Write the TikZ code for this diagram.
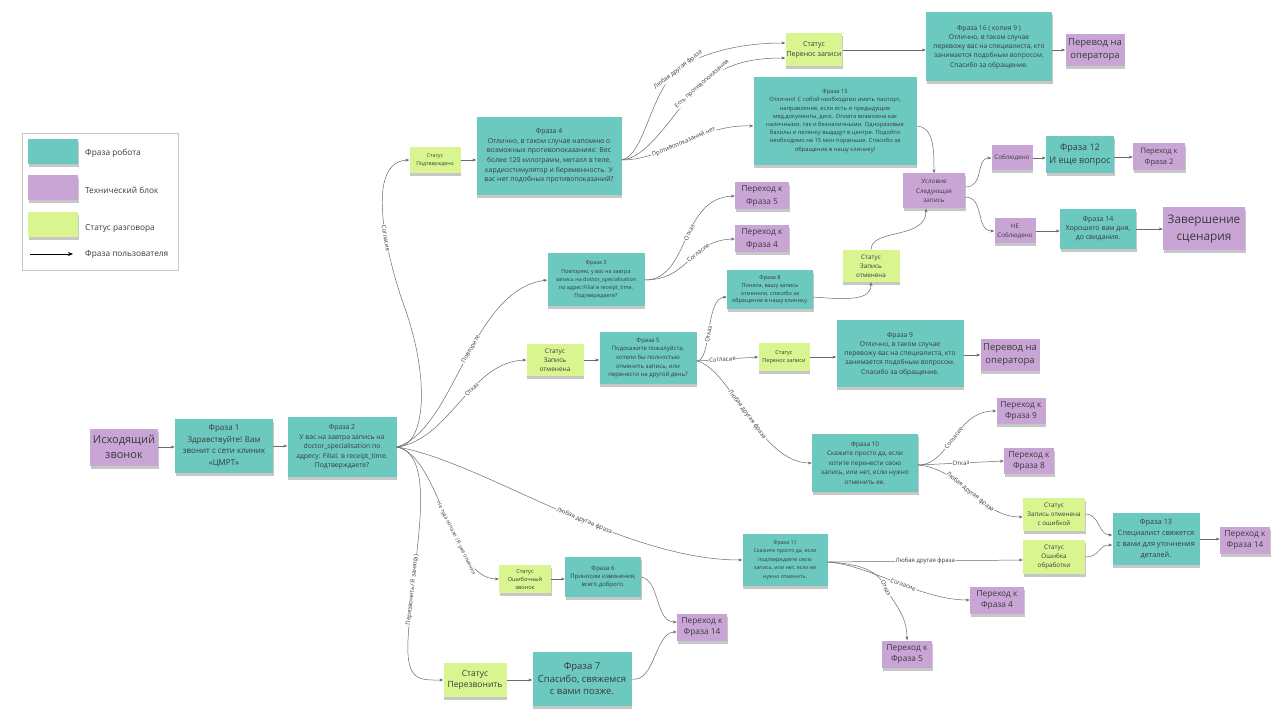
\documentclass[tikz,border=0pt]{standalone}
\usepackage{fontspec}
\setmainfont{Open Sans}
\usetikzlibrary{arrows.meta,shadows}
\definecolor{tealc}{HTML}{6BC9C0}
\definecolor{purc}{HTML}{C9A5D6}
\definecolor{grnc}{HTML}{D8F58F}
\definecolor{txt}{HTML}{3A3A3A}
\definecolor{edgec}{HTML}{6A6A6A}
\newcommand{\fsz}[2]{\fontsize{#1}{#2}\selectfont}
\tikzset{
  sticky/.style={inner sep=1pt, align=center, text=txt,
    drop shadow={shadow xshift=0.5pt,shadow yshift=-3pt,opacity=0.22,fill=black}},
  robot/.style={sticky, fill=tealc},
  tech/.style={sticky, fill=purc},
  stat/.style={sticky, fill=grnc},
  conn/.style={draw=edgec, line width=0.5pt, -{Stealth[length=4pt,width=3pt]}},
  lbl/.style={font=\fsz{6}{7}, text=txt, fill=white, inner sep=0.6pt, sloped},
  lgtext/.style={anchor=west, font=\fsz{8.3}{10}, text=txt, inner sep=0pt},
}
\begin{document}
\begin{tikzpicture}[x=1pt,y=-1pt]
\useasboundingbox (0,0) rectangle (1286,719);
\fill[white] (0,0) rectangle (1286,719);

% ---------- legend ----------
\node[draw=black!22, line width=0.6pt, fill=white, minimum width=156, minimum height=137, inner sep=0pt] (legend) at (100,201.5) {};
\node[robot, minimum width=50, minimum height=25] (lg1) at (53,152) {};
\node[tech, minimum width=50, minimum height=25] (lg2) at (53,188) {};
\node[stat, minimum width=50, minimum height=25] (lg3) at (53,225) {};
\node[lgtext] (lt1) at (85,153) {Фраза робота};
\node[lgtext] (lt2) at (85,190) {Технический блок};
\node[lgtext] (lt3) at (85,228) {Статус разговора};
\node[lgtext] (lt4) at (85,254) {Фраза пользователя};
\coordinate (lga) at (30,254);
\coordinate (lgb) at (73,254);
\draw[black, line width=0.7pt, -{Stealth[length=5pt,width=4pt]}] (lga) -- (lgb);

% ---------- nodes ----------
\node[tech, minimum width=68, minimum height=37, font=\fsz{11}{15}] (ish) at (124,447) {Исходящий\\звонок};
\node[robot, minimum width=98, minimum height=53, font=\fsz{8}{11.5}] (f1) at (224,446) {Фраза 1\\Здравствуйте! Вам\\звонит с сети клиник\\«ЦМРТ»};
\node[robot, minimum width=109, minimum height=59, font=\fsz{6.8}{9.5}] (f2) at (342,447) {Фраза 2\\У вас на завтра запись на\\doctor\_specialisation по\\адресу: Filial. в receipt\_time.\\Подтверждаете?};
\node[stat, minimum width=51, minimum height=26, font=\fsz{5.2}{8.5}] (sPod) at (435,160) {Статус\\Подтверждено};
\node[robot, minimum width=145, minimum height=78, font=\fsz{6.9}{9.7}] (f4) at (549,156) {Фраза 4\\Отлично, в таком случае напомню о\\возможных противопоказаниях: Вес\\более 120 килограмм, металл в теле,\\кардиостимулятор и беременность. У\\вас нет подобных противопоказаний?};
\node[stat, minimum width=55, minimum height=33, font=\fsz{7}{9.5}] (sPer1) at (814,50) {Статус\\Перенос записи};
\node[robot, minimum width=126, minimum height=69, font=\fsz{6.7}{9.3}] (f16) at (989,47) {Фраза 16 ( копия 9 )\\Отлично, в таком случае\\перевожу вас на специалиста, кто\\занимается подобным вопросом.\\Спасибо за обращение.};
\node[tech, minimum width=59, minimum height=32, font=\fsz{9.5}{12.5}] (op1) at (1095,50) {Перевод на\\оператора};
\node[robot, minimum width=163, minimum height=88, font=\fsz{5.8}{8.2}] (f15) at (835,121) {Фраза 15\\Отлично! С собой необходимо иметь паспорт,\\направление, если есть и предыдущие\\мед.документы, диск. Оплата возможна как\\наличными, так и безналичными. Одноразовые\\бахилы и пеленку выдадут в центре. Подойти\\необходимо на 15 мин пораньше. Спасибо за\\обращение в нашу клинику!};
\node[tech, minimum width=62, minimum height=35, font=\fsz{6.3}{9.5}] (usl) at (934,191) {Условие\\Следующая\\запись};
\node[tech, minimum width=41, minimum height=25, font=\fsz{6.3}{9}] (sob) at (1012,158) {Соблюдено};
\node[robot, minimum width=68, minimum height=37, font=\fsz{9}{13.5}] (f12) at (1080,155) {Фраза 12\\И еще вопрос};
\node[tech, minimum width=52, minimum height=27, font=\fsz{7.5}{10.5}] (p2) at (1159,157) {Переход к\\Фраза 2};
\node[tech, minimum width=41, minimum height=25, font=\fsz{6.3}{9}] (nsob) at (1015,231) {НЕ\\Соблюдено};
\node[robot, minimum width=76, minimum height=40, font=\fsz{7}{9}] (f14) at (1098,229) {Фраза 14\\Хорошего вам дня,\\до свидания.};
\node[tech, minimum width=82, minimum height=43, font=\fsz{11.8}{17}] (zav) at (1204,229) {Завершение\\сценария};
\node[tech, minimum width=54, minimum height=27, font=\fsz{8.3}{12.5}] (p5a) at (762,196) {Переход к\\Фраза 5};
\node[tech, minimum width=54, minimum height=27, font=\fsz{8.3}{12.5}] (p4a) at (762,239) {Переход к\\Фраза 4};
\node[robot, minimum width=97, minimum height=53, font=\fsz{5.4}{8.2}] (f3) at (596,280) {Фраза 3\\Повторяю, у вас на завтра\\запись на doctor\_specialisation\\по адрес:Filial в receipt\_time.\\Подтверждаете?};
\node[stat, minimum width=57, minimum height=32, font=\fsz{6.3}{9}] (sOtmR) at (871,266) {Статус\\Запись\\отменена};
\node[robot, minimum width=86, minimum height=39, font=\fsz{5.5}{7.6}] (f8) at (770,290) {Фраза 8\\Поняла, вашу запись\\отменили, спасибо за\\обращение в нашу клинику.};
\node[stat, minimum width=57, minimum height=32, font=\fsz{6.5}{9.3}] (sOtmL) at (555,360) {Статус\\Запись\\отменена};
\node[robot, minimum width=97, minimum height=52, font=\fsz{6}{8.7}] (f5) at (648,358) {Фраза 5\\Подскажите пожалуйста,\\хотели бы полностью\\отменить запись, или\\перенести на другой день?};
\node[stat, minimum width=51, minimum height=28, font=\fsz{5.5}{8}] (sPer2) at (784,357) {Статус\\Перенос записи};
\node[robot, minimum width=127, minimum height=67, font=\fsz{6.7}{9.3}] (f9) at (900,354) {Фраза 9\\Отлично, в таком случае\\перевожу вас на специалиста, кто\\занимается подобным вопросом.\\Спасибо за обращение.};
\node[tech, minimum width=59, minimum height=32, font=\fsz{9.5}{12.5}] (op2) at (1010,355) {Перевод на\\оператора};
\node[robot, minimum width=106, minimum height=58, font=\fsz{6.4}{9.5}] (f10) at (865,463) {Фраза 10\\Скажите просто да, если\\хотите перенести свою\\запись, или нет, если нужно\\отменить ее.};
\node[tech, minimum width=49, minimum height=26, font=\fsz{8.3}{11}] (p9) at (1021,411) {Переход к\\Фраза 9};
\node[tech, minimum width=50, minimum height=26, font=\fsz{8.3}{11}] (p8) at (1029,461) {Переход к\\Фраза 8};
\node[stat, minimum width=62, minimum height=33, font=\fsz{6.3}{9}] (sErr) at (1054,514) {Статус\\Запись отменена\\с ошибкой};
\node[stat, minimum width=62, minimum height=34, font=\fsz{6.3}{9}] (sObr) at (1054,557) {Статус\\Ошибка\\обработки};
\node[robot, minimum width=87, minimum height=52, font=\fsz{7.3}{11}] (f13) at (1156,539) {Фраза 13\\Специалист свяжется\\с вами для уточнения\\деталей.};
\node[tech, minimum width=50, minimum height=27, font=\fsz{8.3}{11}] (p14a) at (1245,540) {Переход к\\Фраза 14};
\node[robot, minimum width=85, minimum height=52, font=\fsz{5.3}{8.5}] (f11) at (785,560) {Фраза 11\\Скажите просто да, если\\подтверждаете свою\\запись, или нет, если ее\\нужно отменить.};
\node[tech, minimum width=54, minimum height=27, font=\fsz{8.3}{11}] (p4b) at (997,600) {Переход к\\Фраза 4};
\node[tech, minimum width=50, minimum height=27, font=\fsz{8.3}{11}] (p5b) at (907,654) {Переход к\\Фраза 5};
\node[stat, minimum width=52, minimum height=28, font=\fsz{5.6}{8}] (sOsh) at (525,579) {Статус\\Ошибочный\\звонок};
\node[robot, minimum width=76, minimum height=40, font=\fsz{6}{8.3}] (f6) at (603,577) {Фраза 6\\Приносим извинения,\\всего доброго.};
\node[tech, minimum width=50, minimum height=27, font=\fsz{8.3}{11}] (p14b) at (702,627) {Переход к\\Фраза 14};
\node[stat, minimum width=63, minimum height=34, font=\fsz{8.5}{11}] (sPrz) at (475,680) {Статус\\Перезвонить};
\node[robot, minimum width=99, minimum height=54, font=\fsz{9.5}{12.5}] (f7) at (582,679) {Фраза 7\\Спасибо, свяжемся\\с вами позже.};

% ---------- connectors ----------
\draw[conn] (ish.east) -- (ish.east -| f1.west);
\draw[conn] (f1.east) -- (f1.east -| f2.west);

% fan from Фраза 2
\draw[conn] (f2.east) .. controls (425,447) and (432,380) .. (402,300) .. controls (382,240) and (368,162) .. (sPod.west) node[lbl,pos=0.33]{Согласие};
\draw[conn] (f2.east) .. controls (455,430) and (470,290) .. (f3.west) node[lbl,pos=0.55]{Повторите};
\draw[conn] (f2.east) .. controls (450,440) and (470,362) .. (sOtmL.west) node[lbl,pos=0.6]{Отказ};
\draw[conn] (f2.east) .. controls (480,460) and (620,560) .. (f11.west) node[lbl,pos=0.58]{Любая другая фраза};
\draw[conn] (f2.east) .. controls (440,455) and (450,579) .. (sOsh.west) node[lbl,pos=0.62,font=\fsz{5.2}{6}]{Не туда попали / Я уже отменил};
\draw[conn] (f2.east) .. controls (440,455) and (412,560) .. (408,640) node[lbl,pos=0.8]{Перезвонить/ Я занят(а)} .. controls (406,682) and (420,680) .. (sPrz.west);

\draw[conn] (sPod.east) -- (sPod.east -| f4.west);

% fan from Фраза 4
\coordinate (f4o) at ([yshift=-4pt]f4.east);
\draw[conn] (f4o) .. controls (645,155) and (650,92) .. (678,70) node[lbl,pos=1]{Любая другая фраза} .. controls (700,53) and (740,43) .. ([yshift=7pt]sPer1.west);
\draw[conn] (f4o) .. controls (650,158) and (675,108) .. (702,84) node[lbl,pos=1]{Есть противопоказания} .. controls (725,64) and (750,58) .. ([yshift=-8pt]sPer1.west);
\draw[conn] (f4o) .. controls (665,160) and (700,124) .. ([yshift=-5pt]f15.west) node[lbl,pos=0.5]{Противопоказаний нет};

\draw[conn] (sPer1.east) -- (sPer1.east -| f16.west);
\draw[conn] (op1.west -| f16.east) -- (op1.west);

\draw[conn] ([yshift=-5pt]f15.east) .. controls (934,127) and (934,150) .. (usl.north);
\draw[conn] ([yshift=4pt]usl.east) .. controls (985,187) and (975,158) .. (sob.west);
\draw[conn] ([yshift=-6pt]usl.east) .. controls (985,197) and (975,231) .. (nsob.west);
\draw[conn] (sob.east) -- (sob.east -| f12.west);
\draw[conn] (p2.west -| f12.east) -- (p2.west);
\draw[conn] (nsob.east) -- (nsob.east -| f14.west);
\draw[conn] (f14.east) -- (f14.east -| zav.west);

% Фраза 3
\draw[conn] (f3.east) .. controls (690,280) and (680,198) .. (p5a.west) node[lbl,pos=0.55]{Отказ};
\draw[conn] (f3.east) .. controls (690,280) and (690,240) .. (p4a.west) node[lbl,pos=0.62]{Согласие};

% Фраза 5
\draw[conn] (sOtmL.east) -- (sOtmL.east -| f5.west);
\coordinate (f5o) at ([yshift=-3pt]f5.east);
\draw[conn] (f5o) .. controls (712,361) and (705,298) .. ([yshift=-7pt]f8.west) node[lbl,pos=0.45]{Отказ};
\draw[conn] (f5o) -- (sPer2.west) node[lbl,pos=0.42]{Согласие};
\draw[conn] (f5o) .. controls (730,368) and (760,463) .. (f10.west) node[lbl,pos=0.5]{Любая другая фраза};

\draw[conn] ([yshift=-7pt]f8.east) .. controls (850,300) and (871,300) .. (sOtmR.south);
\draw[conn] (sOtmR.north) .. controls (871,228) and (926,240) .. ([xshift=-8pt]usl.south);
\draw[conn] (sPer2.east) -- (sPer2.east -| f9.west);
\draw[conn] (op2.west -| f9.east) -- (op2.west);

% Фраза 10
\coordinate (f10o) at ([yshift=-2pt]f10.east);
\draw[conn] (f10o) .. controls (950,465) and (955,411) .. (p9.west) node[lbl,pos=0.5]{Согласие};
\draw[conn] (f10o) -- (p8.west) node[lbl,pos=0.5]{Отказ};
\draw[conn] (f10o) .. controls (960,468) and (980,517) .. ([yshift=-3pt]sErr.west) node[lbl,pos=0.5]{Любая другая фраза};

\draw[conn] (sErr.east) .. controls (1100,514) and (1098,535) .. ([yshift=4pt]f13.west);
\draw[conn] (sObr.east) .. controls (1100,557) and (1098,545) .. ([yshift=-6pt]f13.west);
\draw[conn] (f13.east) -- (f13.east -| p14a.west);

% Фраза 11
\coordinate (f11o) at ([yshift=-2pt]f11.east);
\draw[conn] (f11o) -- ([yshift=-3pt]sObr.west) node[lbl,pos=0.5]{Любая другая фраза};
\draw[conn] (f11o) .. controls (870,565) and (920,600) .. (p4b.west) node[lbl,pos=0.55]{Согласие};
\draw[conn] (f11o) .. controls (860,564) and (878,570) .. (886,588) node[lbl,pos=1]{Отказ} .. controls (894,604) and (907,615) .. (p5b.north);

% bottom
\draw[conn] (sOsh.east) -- (sOsh.east -| f6.west);
\draw[conn] (f6.east) .. controls (660,580) and (655,622) .. ([yshift=5pt]p14b.west);
\draw[conn] (sPrz.east) -- (sPrz.east -| f7.west);
\draw[conn] (f7.east) .. controls (655,683) and (655,632) .. ([yshift=-5pt]p14b.west);
\end{tikzpicture}
\end{document}
